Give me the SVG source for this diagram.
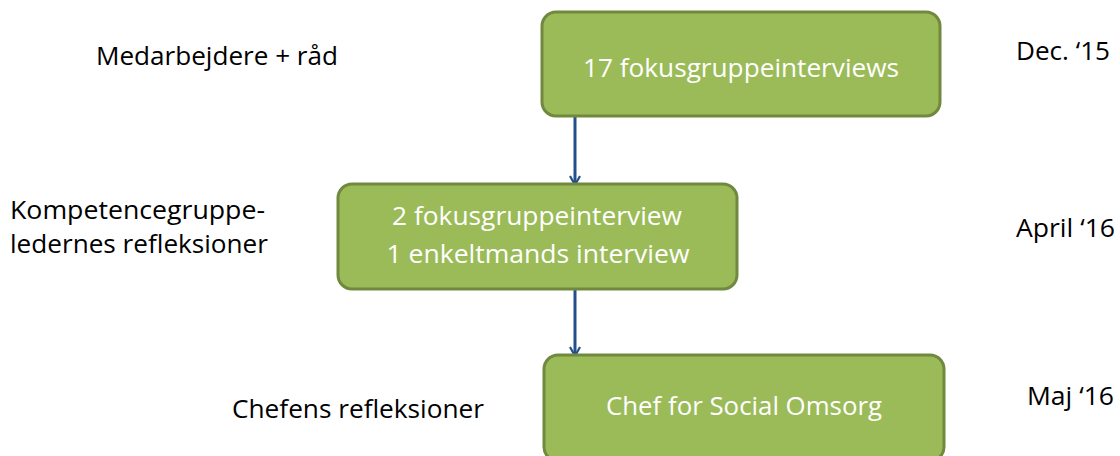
<svg xmlns="http://www.w3.org/2000/svg" width="1120" height="456" viewBox="0 0 1120 456">
<defs>
<style>
.box{fill:#9bbb59;stroke:#71893f;stroke-width:3}
.bt{font-family:"Open Sans","Liberation Sans",sans-serif;font-size:25px;fill:#ffffff;text-anchor:middle}
.lb{font-family:"Open Sans","Liberation Sans",sans-serif;font-size:25px;fill:#000000}
.con{stroke:#254f8a;stroke-width:3;fill:none}
</style>
<marker id="arr" viewBox="0 0 12 12" refX="10" refY="6" markerWidth="12" markerHeight="12" markerUnits="userSpaceOnUse" orient="auto">
<path d="M1,1 L10,6 L1,11" fill="none" stroke="#254f8a" stroke-width="2.2"/>
</marker>
</defs>
<rect width="1120" height="456" fill="#ffffff"/>
<g id="connectors">
<line class="con" x1="575" y1="117" x2="575" y2="185" marker-end="url(#arr)"/>
<line class="con" x1="575" y1="290" x2="575" y2="356" marker-end="url(#arr)"/>
</g>
<g id="node1">
<rect class="box" x="542" y="12" width="398" height="104" rx="14"/>
<text class="bt" x="741" y="77" textLength="316" lengthAdjust="spacingAndGlyphs">17 fokusgruppeinterviews</text>
</g>
<g id="node2">
<rect class="box" x="338" y="184" width="399" height="105" rx="14"/>
<text class="bt" x="537" y="225" textLength="290" lengthAdjust="spacingAndGlyphs">2 fokusgruppeinterview</text>
<text class="bt" x="538" y="263" textLength="303" lengthAdjust="spacingAndGlyphs">1 enkeltmands interview</text>
</g>
<g id="node3">
<rect class="box" x="544" y="355" width="400" height="106" rx="14"/>
<text class="bt" x="744" y="415" textLength="276" lengthAdjust="spacingAndGlyphs">Chef for Social Omsorg</text>
</g>
<g id="labels">
<text class="lb" x="96" y="65" textLength="242" lengthAdjust="spacingAndGlyphs">Medarbejdere + råd</text>
<text class="lb" x="10" y="219" textLength="255" lengthAdjust="spacingAndGlyphs">Kompetencegruppe-</text>
<text class="lb" x="10" y="253" textLength="258" lengthAdjust="spacingAndGlyphs">ledernes refleksioner</text>
<text class="lb" x="232" y="418" textLength="252" lengthAdjust="spacingAndGlyphs">Chefens refleksioner</text>
<text class="lb" x="1016" y="60" textLength="94" lengthAdjust="spacingAndGlyphs">Dec. ‘15</text>
<text class="lb" x="1016" y="237" textLength="99" lengthAdjust="spacingAndGlyphs">April ‘16</text>
<text class="lb" x="1027" y="405" textLength="87" lengthAdjust="spacingAndGlyphs">Maj ‘16</text>
</g>
</svg>
